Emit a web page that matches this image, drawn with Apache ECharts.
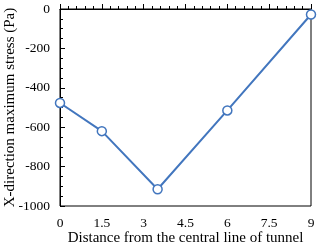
<!DOCTYPE html>
<html><head><meta charset="utf-8">
<script src="https://cdn.jsdelivr.net/npm/echarts@6/dist/echarts.min.js"></script>
<style>html,body{margin:0;padding:0;background:#fff}#c{width:320px;height:247px}</style>
</head><body><div id="c"></div>
<script>
var distances = [0, 1.5, 3.5, 6, 9];
var stress = [-477, -620, -915, -515, -28];
var xTicks = [0, 1.5, 3, 4.5, 6, 7.5, 9];
var yTicks = [0, -200, -400, -600, -800, -1000];
var chart = echarts.init(document.getElementById('c'));
var font = 'Liberation Serif';
chart.setOption({
  animation: false,
  grid: {left: 60, right: 9, top: 9, bottom: 41, show: true, borderColor: '#000', borderWidth: 1, backgroundColor: 'transparent', containLabel: false, outerBoundsMode: 'none'},
  xAxis: {
    type: 'value', min: 0, max: 9, interval: 1.5,
    name: 'Distance from the central line of tunnel', nameLocation: 'middle', nameGap: 25, nameMoveOverlap: false,
    nameTextStyle: {fontFamily: font, fontSize: 15, color: '#000'},
    axisLine: {lineStyle: {color: '#000', width: 1}},
    axisTick: {inside: true, length: 5, lineStyle: {color: '#000'}},
    minorTick: {show: true, splitNumber: 5, length: 3, lineStyle: {color: '#000'}},
    axisLabel: {fontFamily: font, fontSize: 13.5, color: '#000', margin: 10, formatter: function(v){return String(v);}},
    splitLine: {show: false}
  },
  yAxis: {
    type: 'value', min: -1000, max: 0, interval: 200,
    name: 'X-direction maximum stress (Pa)', nameLocation: 'middle', nameGap: 42, nameMoveOverlap: false,
    nameTextStyle: {fontFamily: font, fontSize: 15, color: '#000'},
    axisLine: {show: true, lineStyle: {color: '#000', width: 1}},
    axisTick: {show: true, inside: true, length: 5, lineStyle: {color: '#000'}},
    minorTick: {show: true, splitNumber: 4, length: 3, lineStyle: {color: '#000'}},
    axisLabel: {fontFamily: font, fontSize: 13.5, color: '#000', margin: 10, formatter: function(v){return String(v);}},
    splitLine: {show: false}
  },
  series: [{
    type: 'line',
    data: distances.map(function(d, i){ return [d, stress[i]]; }),
    lineStyle: {color: '#4276BE', width: 2},
    itemStyle: {color: '#fff', borderColor: '#4276BE', borderWidth: 1.5},
    symbol: 'circle', symbolSize: 9,
    clip: false
  }]
});
</script></body></html>
